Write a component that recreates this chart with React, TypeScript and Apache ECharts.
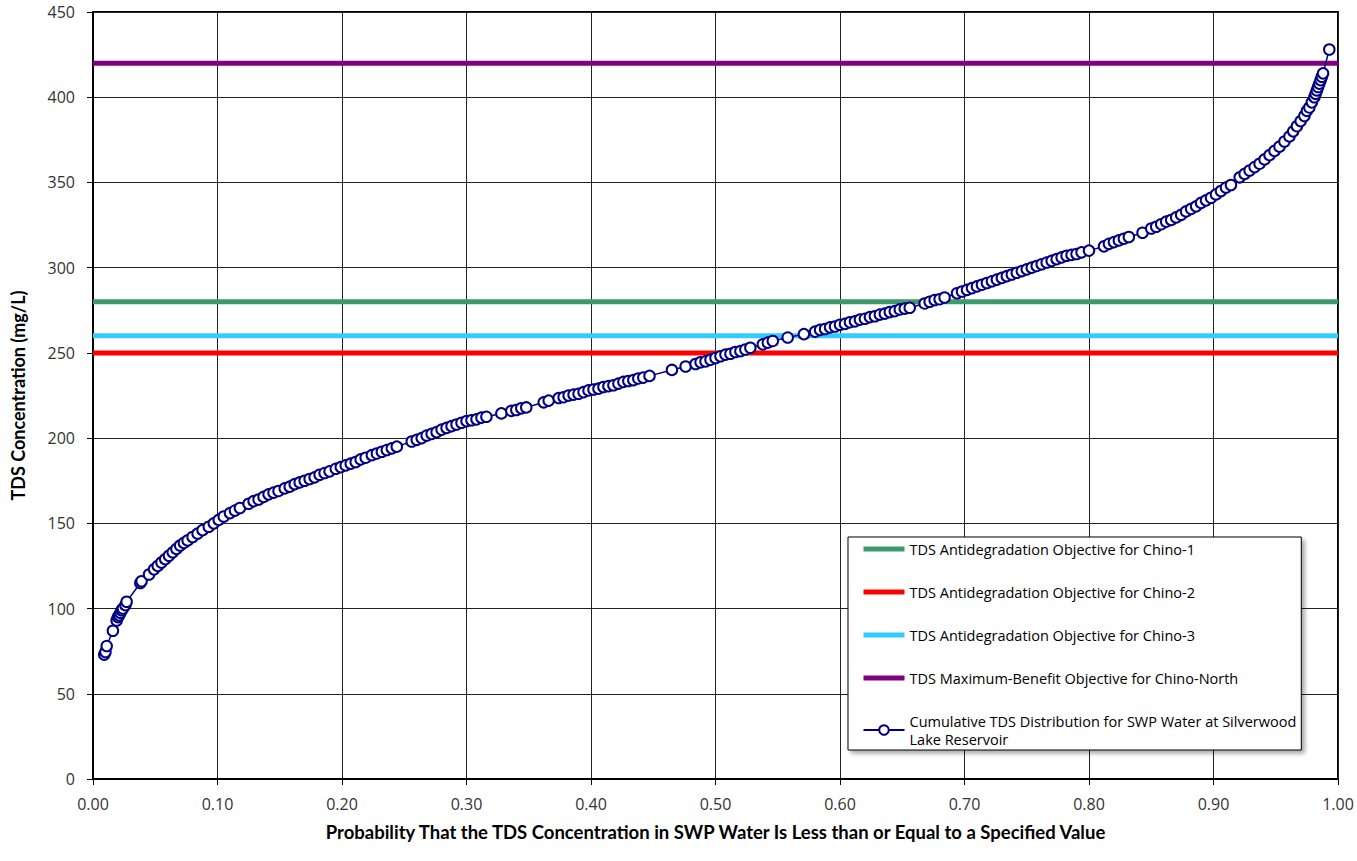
import React, { useEffect, useRef } from "react";
import * as echarts from "echarts";

// Probability (x) and TDS concentration in mg/L (y)
const probability: number[] = [
  0.009, 0.01, 0.011, 0.016, 0.019, 0.02, 0.021, 0.022, 0.023, 0.024, 0.026, 0.027,
  0.038, 0.039, 0.045, 0.049, 0.052, 0.055, 0.058, 0.061, 0.064, 0.067, 0.07, 0.073,
  0.076, 0.08, 0.084, 0.088, 0.093, 0.097, 0.101, 0.105, 0.11, 0.114, 0.118, 0.125,
  0.129, 0.133, 0.137, 0.141, 0.145, 0.149, 0.154, 0.158, 0.162, 0.166, 0.17, 0.174,
  0.178, 0.182, 0.186, 0.19, 0.195, 0.199, 0.203, 0.207, 0.211, 0.215, 0.219, 0.224,
  0.228, 0.232, 0.236, 0.24, 0.244, 0.256, 0.26, 0.264, 0.268, 0.272, 0.276, 0.28,
  0.284, 0.288, 0.292, 0.296, 0.3, 0.304, 0.308, 0.312, 0.316, 0.328, 0.336, 0.34,
  0.344, 0.348, 0.362, 0.366, 0.374, 0.378, 0.382, 0.386, 0.39, 0.394, 0.398, 0.402,
  0.406, 0.41, 0.414, 0.418, 0.422, 0.426, 0.43, 0.434, 0.438, 0.442, 0.447, 0.465,
  0.476, 0.484, 0.488, 0.492, 0.496, 0.5, 0.504, 0.508, 0.512, 0.516, 0.52, 0.524,
  0.528, 0.538, 0.542, 0.546, 0.558, 0.571, 0.58, 0.584, 0.588, 0.592, 0.596, 0.6,
  0.604, 0.608, 0.612, 0.616, 0.62, 0.624, 0.628, 0.632, 0.636, 0.64, 0.644, 0.648,
  0.652, 0.656, 0.668, 0.672, 0.676, 0.68, 0.684, 0.694, 0.698, 0.702, 0.706, 0.71,
  0.714, 0.718, 0.722, 0.726, 0.73, 0.734, 0.738, 0.742, 0.746, 0.75, 0.754, 0.758,
  0.762, 0.766, 0.77, 0.774, 0.778, 0.782, 0.786, 0.79, 0.794, 0.8, 0.812, 0.816,
  0.82, 0.824, 0.828, 0.832, 0.843, 0.85, 0.854, 0.858, 0.862, 0.866, 0.87, 0.874,
  0.878, 0.882, 0.886, 0.89, 0.894, 0.898, 0.902, 0.906, 0.91, 0.914, 0.921, 0.925,
  0.929, 0.933, 0.937, 0.941, 0.945, 0.949, 0.953, 0.957, 0.961, 0.964, 0.967, 0.97,
  0.973, 0.975, 0.977, 0.979, 0.981, 0.982, 0.983, 0.984, 0.985, 0.986, 0.987, 0.988,
  0.993,
];

const tds: number[] = [
  73, 74.5, 78, 87, 93, 95, 96, 97.5, 99, 100, 102, 104,
  115, 116, 120, 123, 125, 127, 129, 131, 133, 135, 137, 138.5,
  140, 142, 144, 146, 148, 150, 152, 154, 156, 157.5, 159, 161.5,
  163, 164, 165.5, 167, 168, 169, 170.5, 171.5, 173, 174, 175, 176,
  177, 178.5, 179.5, 180.5, 182, 183, 184, 185, 186, 187.5, 188.5, 190,
  191, 192, 193, 194, 195, 198, 199, 200, 201.5, 202.5, 203.5, 205,
  206, 207, 208, 209, 210, 210.5, 211, 212, 212.5, 214.5, 216, 216.5,
  217.5, 218, 221, 222, 223.5, 224, 225, 225.5, 226, 227, 228, 228.5,
  229, 230, 230.5, 231, 232, 233, 233.5, 234, 235, 235.5, 236.5, 240,
  242, 243.5, 244.5, 245, 246, 247, 248, 249, 249.5, 250.5, 251, 252,
  253, 255, 256, 257, 259, 261, 262.5, 263.5, 264, 265, 265.5, 266.5,
  267, 268, 268.5, 269.5, 270, 271, 271.5, 272.5, 273, 274, 274.5, 275.5,
  276, 276.5, 279, 280, 281, 281.5, 282.5, 285, 286, 287, 288, 289,
  290, 291, 292, 293, 294, 295, 296, 297, 298, 299, 300, 301,
  302, 303, 304, 305, 306, 307, 307.5, 308, 309, 310, 312.5, 314,
  315, 316, 317, 318, 320.5, 323, 324, 325.5, 327, 328, 329.5, 331,
  333, 334.5, 336, 338, 339.5, 341, 343, 345, 347, 348.5, 353, 355,
  357, 359, 361, 363.5, 366, 368.5, 371, 374, 377, 380, 383, 386,
  389, 392, 394, 397, 400, 402, 404, 406, 408, 410, 412, 414,
  428,
];

// Objective levels (mg/L)
const objectiveNames: string[] = [
  "TDS Antidegradation Objective for Chino-1",
  "TDS Antidegradation Objective for Chino-2",
  "TDS Antidegradation Objective for Chino-3",
  "TDS Maximum-Benefit Objective for Chino-North",
];
const objectiveValues: number[] = [280, 250, 260, 420];
const objectiveColors: string[] = ["#3C9A6B", "#FF0000", "#33CCFF", "#800080"];

const curveName = "Cumulative TDS Distribution for SWP Water at Silverwood Lake Reservoir";
const curveLegendLabel = "Cumulative TDS Distribution for SWP Water at Silverwood\nLake Reservoir";

const xMin = 0;
const xMax = 1;
const yMin = 0;
const yMax = 450;

export default function App() {
  const ref = useRef<HTMLDivElement>(null);

  useEffect(() => {
    document.body.style.margin = "0";
    if (!ref.current) return;
    const chart = echarts.init(ref.current, undefined, { renderer: "svg" });

    const objectiveSeries = objectiveNames.map((name, i) => ({
      name,
      type: "line",
      data: [
        [xMin, objectiveValues[i]],
        [xMax, objectiveValues[i]],
      ],
      symbol: "none",
      lineStyle: { color: objectiveColors[i], width: 5 },
      itemStyle: { color: objectiveColors[i] },
      z: 2,
    }));

    const curveData = probability.map((p, i) => [p, tds[i]]);

    const labelFont = "'Open Sans', 'DejaVu Sans', sans-serif";
    const titleFont = "Lato, 'Open Sans', sans-serif";

    chart.setOption({
      animation: false,
      backgroundColor: "#ffffff",
      grid: {
        left: 93,
        right: 19,
        top: 12,
        bottom: 82,
        show: true,
        borderColor: "#000",
        borderWidth: 2,
        backgroundColor: "transparent",
      },
      legend: {
        orient: "vertical",
        left: 848,
        top: 537,
        padding: [3, 5, 2, 13],
        itemWidth: 41,
        itemHeight: 12,
        itemGap: 25,
        backgroundColor: "#ffffff",
        borderColor: "#000",
        borderWidth: 1,
        shadowBlur: 4,
        shadowOffsetX: 3,
        shadowOffsetY: 3,
        shadowColor: "rgba(0,0,0,0.35)",
        data: [
          ...objectiveNames.map((name, i) => ({
            name,
            itemStyle: { opacity: 0 },
            lineStyle: { color: objectiveColors[i], width: 5 },
          })),
          { name: curveName },
        ],
        formatter: (name: string) => (name === curveName ? curveLegendLabel : name),
        textStyle: {
          fontFamily: labelFont,
          fontSize: 14.5,
          color: "#000",
          lineHeight: 18,
        },
      },
      xAxis: {
        type: "value",
        min: xMin,
        max: xMax,
        interval: 0.1,
        name: "Probability That the TDS Concentration in SWP Water Is Less than or Equal to a Specified Value",
        nameLocation: "middle",
        nameGap: 43,
        nameTextStyle: {
          fontFamily: titleFont,
          fontWeight: "bold",
          fontSize: 18.5,
          color: "#000",
        },
        axisLine: { show: true, lineStyle: { color: "#000", width: 2 } },
        axisTick: { show: true, length: 6, lineStyle: { color: "#000", width: 1 } },
        axisLabel: {
          formatter: (v: number) => v.toFixed(2),
          fontFamily: labelFont,
          fontSize: 16,
          color: "#333",
          margin: 17,
        },
        splitLine: { show: true, lineStyle: { color: "#222", width: 1 } },
      },
      yAxis: {
        type: "value",
        min: yMin,
        max: yMax,
        interval: 50,
        name: "TDS Concentration (mg/L)",
        nameLocation: "middle",
        nameGap: 66,
        nameTextStyle: {
          fontFamily: titleFont,
          fontWeight: "bold",
          fontSize: 18,
          color: "#000",
        },
        axisLine: { show: true, lineStyle: { color: "#000", width: 2 } },
        axisTick: { show: true, length: 6, lineStyle: { color: "#000", width: 1 } },
        axisLabel: {
          fontFamily: labelFont,
          fontSize: 16,
          color: "#333",
          margin: 18,
        },
        splitLine: { show: true, lineStyle: { color: "#222", width: 1 } },
      },
      series: [
        ...objectiveSeries,
        {
          name: curveName,
          type: "line",
          data: curveData,
          symbol: "circle",
          symbolSize: 10.5,
          showAllSymbol: true,
          lineStyle: { color: "#000080", width: 1.5 },
          itemStyle: { color: "#ffffff", borderColor: "#000080", borderWidth: 2 },
          z: 3,
        },
      ],
    });

    return () => chart.dispose();
  }, []);

  return (
    <div
      ref={ref}
      style={{ position: "fixed", left: 0, top: 0, width: 1357, height: 861 }}
    />
  );
}
